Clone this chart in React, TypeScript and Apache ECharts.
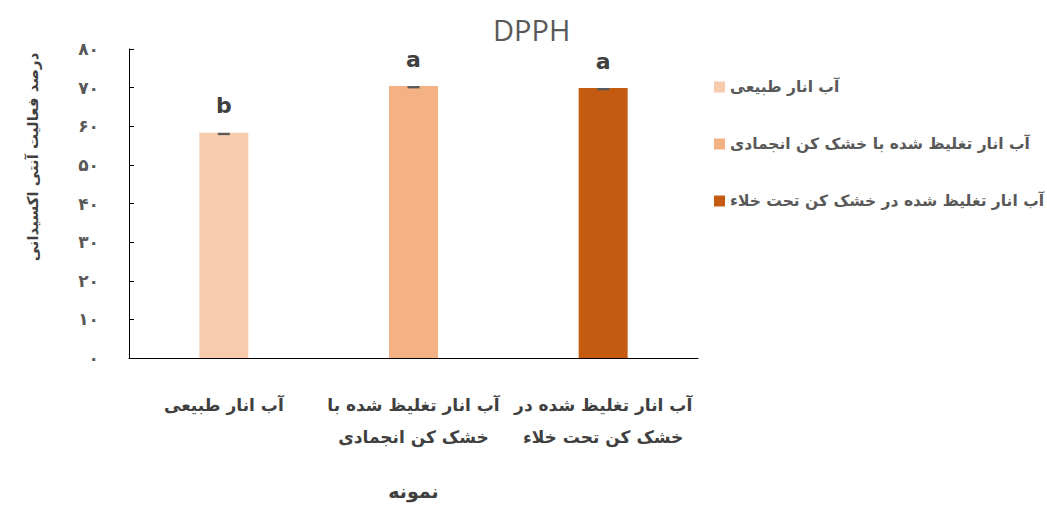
import React, { useEffect, useRef } from "react";
import * as echarts from "echarts";

const categories = [
  "آب انار طبیعی",
  "آب انار تغلیظ شده با خشک کن انجمادی",
  "آب انار تغلیظ شده در خشک کن تحت خلاء",
];
const categoryLabels = [
  "آب انار طبیعی",
  "آب انار تغلیظ شده با\nخشک کن انجمادی",
  "آب انار تغلیظ شده در\nخشک کن تحت خلاء",
];
const values = [58.3, 70.4, 69.9];
const errors = [0.6, 0.6, 0.6];
const letters = ["b", "a", "a"];
const colors = ["#F8CBAD", "#F4B183", "#C55A11"];

const persianDigits = (v: number | string) =>
  String(v).replace(/[0-9]/g, (d) => "۰۱۲۳۴۵۶۷۸۹"[Number(d)]);

const FONT = "DejaVu Sans";

export default function App() {
  const ref = useRef<HTMLDivElement>(null);
  useEffect(() => {
    if (!ref.current) return;
    const chart = echarts.init(ref.current, undefined, { renderer: "svg" });
    const barSeries = categories.map((name, i) => ({
      name,
      type: "bar",
      stack: "all",
      barWidth: 49,
      itemStyle: { color: colors[i] },
      data: categories.map((_, j) => (j === i ? values[j] : "-")),
      label: {
        show: true,
        position: "top",
        distance: 16,
        formatter: () => letters[i],
        fontFamily: FONT,
        fontSize: 22,
        fontWeight: "bold",
        color: "#404040",
      },
    }));
    chart.setOption({
      animation: false,
      title: {
        text: "DPPH",
        left: 488,
        top: 10,
        textStyle: { fontFamily: "Open Sans", fontSize: 29, fontWeight: "normal", color: "#595959" },
      },
      legend: {
        orient: "vertical",
        left: 709,
        top: 72,
        itemWidth: 11,
        itemHeight: 11,
        itemGap: 37,
        icon: "rect",
        data: categories,
        textStyle: { fontFamily: FONT, fontSize: 15.5, fontWeight: "bold", color: "#595959", lineHeight: 20 },
      },
      grid: { left: 129, right: 349, top: 49, bottom: 142 },
      xAxis: {
        type: "category",
        data: categories,
        axisLine: { show: true, lineStyle: { color: "#000", width: 1 } },
        axisTick: { show: false },
        axisLabel: {
          interval: 0,
          margin: 31,
          formatter: (_v: string, idx: number) => categoryLabels[idx],
          fontFamily: FONT,
          fontSize: 17,
          fontWeight: "bold",
          color: "#404040",
          lineHeight: 32,
        },
        name: "نمونه",
        nameLocation: "middle",
        nameGap: 123,
        nameTextStyle: { fontFamily: FONT, fontSize: 19, fontWeight: "bold", color: "#404040" },
      },
      yAxis: {
        type: "value",
        min: 0,
        max: 80,
        interval: 10,
        splitLine: { show: false },
        axisLine: { show: true, lineStyle: { color: "#000", width: 1 } },
        axisTick: { show: true, inside: true, length: 5, lineStyle: { color: "#000" } },
        axisLabel: {
          margin: 30,
          formatter: (v: number) => persianDigits(v),
          fontFamily: FONT,
          fontSize: 17,
          fontWeight: "bold",
          color: "#595959",
        },
      },
      graphic: [
        {
          type: "text",
          x: 33,
          y: 157,
          rotation: Math.PI / 2,
          style: {
            text: "درصد فعالیت آنتی اکسیدانی",
            fontFamily: FONT,
            fontSize: 15,
            fontWeight: "bold",
            fill: "#404040",
            align: "center",
            verticalAlign: "middle",
          },
        },
      ],
      series: [
        ...barSeries,
        {
          type: "custom",
          name: "err",
          z: 10,
          data: categories.map((_, i) => [i, values[i], errors[i]]),
          encode: { x: 0, y: 1 },
          renderItem: (_params: any, api: any) => {
            const top = api.coord([api.value(0), api.value(1)]);
            const bot = api.coord([api.value(0), api.value(1) - api.value(2)]);
            return {
              type: "rect",
              shape: { x: top[0] - 6, y: top[1], width: 12, height: Math.max(2, bot[1] - top[1]) },
              style: { fill: "#595959" },
            };
          },
        },
      ],
    });
    return () => chart.dispose();
  }, []);
  return (
    <div
      ref={ref}
      style={{ position: "absolute", left: 0, top: 0, width: 1047, height: 505, background: "#fff" }}
    />
  );
}
